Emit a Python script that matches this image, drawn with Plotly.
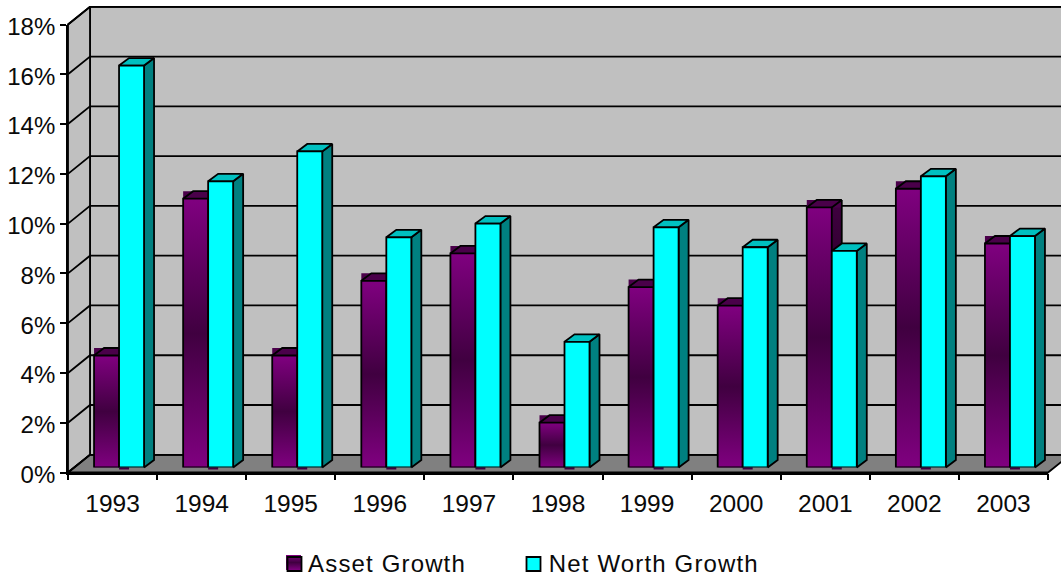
import plotly.graph_objects as go

years = ["1993","1994","1995","1996","1997","1998","1999","2000","2001","2002","2003"]
asset_growth = [4.5, 10.8, 4.5, 7.5, 8.6, 1.8, 7.25, 6.5, 10.45, 11.2, 9.0]
net_worth_growth = [16.15, 11.5, 12.7, 9.25, 9.8, 5.05, 9.65, 8.85, 8.7, 11.7, 9.3]
y_ticks = [0, 2, 4, 6, 8, 10, 12, 14, 16, 18]

W, H = 1061, 579
X0, X1 = 68.0, 1048.0      # front axis span, px
Y0, Y1 = 472.5, 24.5       # 0% and 18%, px
UX = (X1 - X0) / 11
UY = (Y0 - Y1) / 18
def px(d): return d / UX
def py(d): return d / UY

WALL_X, WALL_Y = px(22), py(17.7)    # depth of the whole box
BAR_X, BAR_Y = px(6.5), py(5)        # where the bar fronts sit
DEP_X, DEP_Y = px(10), py(7.5)       # depth of a bar
BAR_W = px(25)
LW = 1.8
n = len(years)
L, R = -0.5, n - 0.5

fig = go.Figure()
def poly(xs, ys, **kw):
    kw.setdefault("line", dict(color="black", width=LW))
    kw.setdefault("fill", "toself")
    fig.add_trace(go.Scatter(x=xs, y=ys, mode="lines", hoverinfo="skip", showlegend=False,
                             cliponaxis=False, **kw))

# back wall, left wall, floor
poly([L+WALL_X, R+WALL_X, R+WALL_X, L+WALL_X, L+WALL_X],
     [WALL_Y, WALL_Y, 18+WALL_Y, 18+WALL_Y, WALL_Y], fillcolor="#c0c0c0")
poly([L, L+WALL_X, L+WALL_X, L, L], [0, WALL_Y, 18+WALL_Y, 18, 0], fillcolor="#c0c0c0")
poly([L, R, R+WALL_X, L+WALL_X, L], [0, 0, WALL_Y, WALL_Y, 0], fillcolor="#808080")

# grid lines on both walls
gx, gy = [], []
for t in y_ticks:
    gx += [L, L+WALL_X, R+WALL_X, None]
    gy += [t, t+WALL_Y, t+WALL_Y, None]
poly(gx, gy, fill="none")

PURPLE = [[0, "#800080"], [0.5, "#400040"], [1, "#800080"]]
PURPLE_DARK = [[0, "#400040"], [0.5, "#200020"], [1, "#400040"]]

# purple sides and tops
ox, oy = [], []
for i, v in enumerate(asset_growth):
    c = i + BAR_X
    t = v + BAR_Y
    poly([c, c+DEP_X, c+DEP_X, c, c],
         [BAR_Y-py(2), BAR_Y-py(2), t+DEP_Y, t+DEP_Y, BAR_Y-py(2)],
         fillgradient=dict(type="vertical", colorscale=PURPLE_DARK), line=dict(width=0))
    poly([c-BAR_W, c+DEP_X, c+DEP_X, c-BAR_W, c-BAR_W], [t, t, t+DEP_Y, t+DEP_Y, t],
         fillcolor="#4a004a", line=dict(width=0))
    ox += [c-BAR_W, c-BAR_W+DEP_X, c+DEP_X, c, None, c+DEP_X, c+DEP_X, None]
    oy += [t, t+DEP_Y, t+DEP_Y, t, None, t+DEP_Y, BAR_Y+DEP_Y, None]
poly(ox, oy, fill="none")

# purple gradient fronts
for i, v in enumerate(asset_growth):
    c = i + BAR_X
    poly([c-BAR_W, c, c, c-BAR_W, c-BAR_W],
         [BAR_Y, BAR_Y, v+BAR_Y, v+BAR_Y, BAR_Y],
         fillgradient=dict(type="vertical", colorscale=PURPLE), line=dict(width=0))

# cyan sides and tops
sx, sy, tx, ty = [], [], [], []
for i, v in enumerate(net_worth_growth):
    c = i + BAR_X
    t = v + BAR_Y
    sx += [c+BAR_W, c+BAR_W+DEP_X, c+BAR_W+DEP_X, c+BAR_W, c+BAR_W, None]
    sy += [BAR_Y, BAR_Y+DEP_Y, t+DEP_Y, t, BAR_Y, None]
    tx += [c, c+DEP_X, c+BAR_W+DEP_X, c+BAR_W, c, None]
    ty += [t, t+DEP_Y, t+DEP_Y, t, t, None]
poly(sx, sy, fillcolor="#008080")
poly(tx, ty, fillcolor="#00c0c0")

# legend swatch gradient (from pixel positions)
def dx(p): return L + (p - X0) / UX
def dy(p): return (Y0 - p) / UY
poly([dx(286), dx(301), dx(301), dx(286), dx(286)],
     [dy(570), dy(570), dy(555), dy(555), dy(570)],
     fillgradient=dict(type="vertical", colorscale=PURPLE), line=dict(width=0))

# bar fronts: a second subplot shifted to the plane of the bars
fig.add_trace(go.Bar(x=years, y=asset_growth, name="Asset Growth", xaxis="x2", yaxis="y2",
                     marker=dict(color="rgba(128,0,128,0)", line=dict(color="black", width=LW)),
                     cliponaxis=False, showlegend=False))
fig.add_trace(go.Bar(x=years, y=net_worth_growth, name="Net Worth Growth", xaxis="x2", yaxis="y2",
                     marker=dict(color="#00ffff", line=dict(color="black", width=LW)),
                     cliponaxis=False, showlegend=False))
# empty trace so the visible axes exist as their own subplot on top
fig.add_trace(go.Scatter(x=[None], y=[None], xaxis="x3", yaxis="y3", showlegend=False, hoverinfo="skip"))

FONT = "Liberation Sans, Arial, sans-serif"
tick_font = dict(family=FONT, size=24, color="#0a0a0a")
x_font = dict(family=FONT, size=24.5, color="#0a0a0a")
fig.update_layout(
    width=W, height=H, margin=dict(l=0, r=0, t=0, b=0, autoexpand=False), autosize=False,
    paper_bgcolor="white", plot_bgcolor="rgba(0,0,0,0)",
    barmode="group", bargap=1 - 2 * BAR_W, bargroupgap=0,
    # full-canvas hidden axes for the box and the bar sides, same scale as the visible axes
    xaxis=dict(domain=[0, 1], range=[dx(0), dx(W)], visible=False),
    yaxis=dict(domain=[0, 1], range=[dy(H), dy(0)], visible=False),
    xaxis2=dict(domain=[(X0+6.5)/W, (X1+6.5)/W], range=[L, R], type="category",
                categoryorder="array", categoryarray=years, visible=False, anchor="y2"),
    yaxis2=dict(domain=[1-(Y0-5)/H, 1-(Y1-5)/H], range=[0, 18], visible=False, anchor="x2"),
    xaxis3=dict(domain=[X0/W, X1/W], range=[L, R], tickmode="array", anchor="y3",
               tickvals=list(range(n)), ticktext=years, tickfont=x_font,
               ticks="outside", ticklen=8, tickcolor="rgba(0,0,0,0)", tickwidth=1,
               showgrid=False, zeroline=False, showline=True, linecolor="black", linewidth=LW,
               minor=dict(tickvals=[i - 0.5 for i in range(n + 1)], ticks="outside",
                          ticklen=6, tickcolor="black", tickwidth=LW, showgrid=False)),
    yaxis3=dict(domain=[1 - Y0/H, 1 - Y1/H], range=[0, 18], tickmode="array", anchor="x3",
               tickvals=y_ticks, ticktext=[f"{t}%" for t in y_ticks], tickfont=tick_font,
               ticks="outside", ticklen=6, tickcolor="black", tickwidth=LW, ticklabelshift=2,
               showgrid=False, zeroline=False, showline=True, linecolor="black", linewidth=LW),
    annotations=[
        dict(text="Asset Growth", xref="paper", yref="paper", x=313/W, y=1-563/H,
             xanchor="left", yanchor="middle", showarrow=False, font=tick_font),
        dict(text="Net Worth Growth", xref="paper", yref="paper", x=556/W, y=1-563/H,
             xanchor="left", yanchor="middle", showarrow=False, font=tick_font),
    ],
    shapes=[
        dict(type="rect", xref="paper", yref="paper", x0=287.5/W, x1=301.5/W, y0=1-571/H, y1=1-557/H,
             line=dict(color="black", width=LW), fillcolor="rgba(0,0,0,0)"),
        dict(type="rect", xref="paper", yref="paper", x0=526.5/W, x1=540.5/W, y0=1-571/H, y1=1-557/H,
             line=dict(color="black", width=LW), fillcolor="#00ffff"),
    ],
)

post = """
document.body.style.margin='0';
document.body.style.overflow='hidden';
var s=document.createElement('style');
s.textContent='.annotation-text{letter-spacing:1.15px}';
document.head.appendChild(s);
"""
fig.write_html("out.html", post_script=post, config=dict(displayModeBar=False))
